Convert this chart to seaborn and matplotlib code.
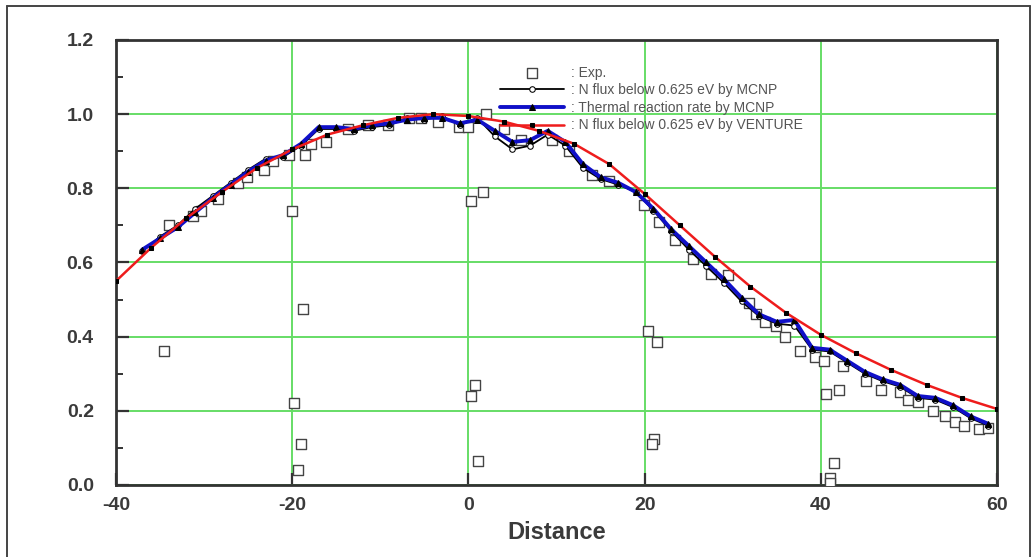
import matplotlib
matplotlib.use('Agg')
import matplotlib.pyplot as plt
from matplotlib.lines import Line2D
from matplotlib.ticker import MultipleLocator, FormatStrFormatter
import seaborn as sns
import pandas as pd

# 实验数据 (Exp.)
exp_x = [-34.0, -31.3, -30.4, -28.4, -26.1, -25.1, -23.2, -22.2, -20.4, -18.5,
         -17.9, -16.2, -13.7, -11.4, -9.1, -6.8, -5.4, -3.4, -1.1, 0.0,
         2.0, 4.0, 6.0, 9.5, 11.4, 14.0, 16.0, 19.9, 21.6, 23.5,
         25.5, 27.5, 29.5, 31.9, 32.6, 33.7, 34.9, 35.9, 37.6, 39.3,
         40.4, 42.5, 45.1, 46.8, 49.0, 49.9, 51.0, 52.7, 54.1, 55.2,
         56.2, 57.9, 59.0,
         -34.6, -20.0, -18.8, -19.8, -19.0, -19.4, 0.3, 1.7, 0.7, 0.3,
         1.1, 20.4, 21.4, 21.1, 20.8, 40.6, 42.1, 41.5, 41.0, 41.0]
exp_y = [0.70, 0.725, 0.74, 0.77, 0.815, 0.83, 0.85, 0.875, 0.89, 0.89,
         0.92, 0.925, 0.96, 0.97, 0.97, 0.99, 0.99, 0.98, 0.965, 0.965,
         1.0, 0.96, 0.93, 0.93, 0.90, 0.835, 0.82, 0.755, 0.71, 0.66,
         0.61, 0.57, 0.565, 0.49, 0.46, 0.44, 0.43, 0.40, 0.36, 0.345,
         0.335, 0.32, 0.28, 0.255, 0.25, 0.23, 0.225, 0.20, 0.185, 0.17,
         0.16, 0.15, 0.155,
         0.36, 0.74, 0.475, 0.22, 0.11, 0.04, 0.765, 0.79, 0.27, 0.24,
         0.065, 0.415, 0.385, 0.125, 0.11, 0.245, 0.255, 0.058, 0.02, 0.005]

# MCNP 计算结果
mc_x = [-37, -35, -33, -31, -29, -27, -25, -23, -21, -19, -17, -15, -13, -11,
        -9, -7, -5, -3, -1, 1, 3, 5, 7, 9, 11, 13, 15, 17, 19, 21, 23, 25,
        27, 29, 31, 33, 35, 37, 39, 41, 43, 45, 47, 49, 51, 53, 55, 57, 59]
flux_mcnp = [0.63, 0.67, 0.70, 0.745, 0.78, 0.815, 0.85, 0.88, 0.885, 0.915,
             0.96, 0.96, 0.955, 0.965, 0.97, 0.99, 0.985, 0.995, 0.97, 0.99,
             0.94, 0.905, 0.915, 0.945, 0.915, 0.855, 0.825, 0.81, 0.79, 0.74,
             0.685, 0.635, 0.59, 0.545, 0.495, 0.455, 0.435, 0.43, 0.365, 0.36,
             0.33, 0.30, 0.28, 0.265, 0.235, 0.23, 0.21, 0.18, 0.16]
rate_mcnp = [0.635, 0.665, 0.695, 0.735, 0.775, 0.81, 0.845, 0.875, 0.89, 0.92,
             0.965, 0.965, 0.96, 0.97, 0.975, 0.985, 0.99, 0.99, 0.975, 0.985,
             0.955, 0.925, 0.93, 0.955, 0.925, 0.865, 0.83, 0.815, 0.79, 0.745,
             0.69, 0.645, 0.60, 0.555, 0.505, 0.46, 0.44, 0.445, 0.37, 0.365,
             0.335, 0.305, 0.285, 0.27, 0.24, 0.235, 0.215, 0.185, 0.165]

# VENTURE 计算结果
vent_x = [-40, -36, -32, -28, -24, -20, -16, -12, -8, -4, 0, 4, 8, 12, 16,
          20, 24, 28, 32, 36, 40, 44, 48, 52, 56, 60]
flux_venture = [0.55, 0.64, 0.72, 0.79, 0.855, 0.905, 0.945, 0.97, 0.99, 1.0,
                0.995, 0.98, 0.955, 0.92, 0.865, 0.785, 0.70, 0.615, 0.535, 0.465,
                0.405, 0.355, 0.31, 0.27, 0.235, 0.205]

labels = [': Exp.',
          ': N flux below 0.625 eV by MCNP',
          ': Thermal reaction rate by MCNP',
          ': N flux below 0.625 eV by VENTURE']

df_exp = pd.DataFrame({'x': exp_x, 'y': exp_y})
df_mc = pd.DataFrame({'x': mc_x, 'flux': flux_mcnp, 'rate': rate_mcnp})
df_vent = pd.DataFrame({'x': vent_x, 'flux': flux_venture})

sns.set_style('white')
plt.rcParams['font.family'] = ['Liberation Sans', 'DejaVu Sans']
plt.rcParams['axes.unicode_minus'] = False

fig = plt.figure(figsize=(10.33, 5.57), dpi=100)
ax = fig.add_axes([0.1123, 0.1293, 0.8529, 0.7989])

grid_c = '#66dd66'
sns.scatterplot(data=df_exp, x='x', y='y', ax=ax, marker='s', s=42,
                facecolor='white', edgecolor='#444444', linewidth=1.0,
                label=labels[0], zorder=3)
sns.lineplot(data=df_mc, x='x', y='flux', ax=ax, color='black', linewidth=1.3,
             marker='o', markersize=4, markerfacecolor='white',
             markeredgecolor='black', label=labels[1], zorder=4)
sns.lineplot(data=df_mc, x='x', y='rate', ax=ax, color='#1010c8', linewidth=2.8,
             marker='^', markersize=4.5, markerfacecolor='black',
             markeredgecolor='black', label=labels[2], zorder=5)
sns.lineplot(data=df_vent, x='x', y='flux', ax=ax, color='#ee1c1c', linewidth=1.8,
             marker='s', markersize=3, markerfacecolor='black',
             markeredgecolor='black', label=labels[3], zorder=6)

ax.set_xlim(-40, 60)
ax.set_ylim(0, 1.2)
ax.xaxis.set_major_locator(MultipleLocator(20))
ax.yaxis.set_major_locator(MultipleLocator(0.2))
ax.yaxis.set_minor_locator(MultipleLocator(0.1))
ax.yaxis.set_major_formatter(FormatStrFormatter('%.1f'))
ax.grid(True, which='major', color=grid_c, linewidth=1.4)
ax.set_axisbelow(True)
ax.tick_params(which='major', direction='in', length=9, width=1.6,
               color='#333333', labelsize=14, labelcolor='#3a3a3a')
ax.tick_params(axis='y', which='major', pad=16)
ax.tick_params(axis='x', which='major', pad=9)
ax.tick_params(which='minor', direction='in', length=5, width=1.4,
               color='#333333')
ax.tick_params(axis='y', which='both', left=True)
ax.tick_params(axis='x', which='both', bottom=True)
for lab in ax.get_xticklabels() + ax.get_yticklabels():
    lab.set_fontweight('bold')
for sp in ax.spines.values():
    sp.set_color('#333333')
    sp.set_linewidth(2.0)

ax.set_xlabel('Distance', fontsize=17, fontweight='bold',
              color='#3a3a3a', labelpad=5)
ax.set_ylabel('')

leg = ax.legend(loc='upper left', bbox_to_anchor=(0.43, 0.955), frameon=False,
                fontsize=10, handlelength=4.6, handletextpad=0.5,
                labelspacing=0.26, borderaxespad=0)
for t in leg.get_texts():
    t.set_color('#555555')

# 外框
fig.add_artist(Line2D([0.007, 0.007], [0.0, 0.989], color='#444444', lw=1.4))
fig.add_artist(Line2D([0.007, 0.997], [0.989, 0.989], color='#444444', lw=1.4))
fig.add_artist(Line2D([0.997, 0.997], [0.0, 0.989], color='#444444', lw=1.4))

fig.savefig('out.png', dpi=100)
plt.close(fig)
